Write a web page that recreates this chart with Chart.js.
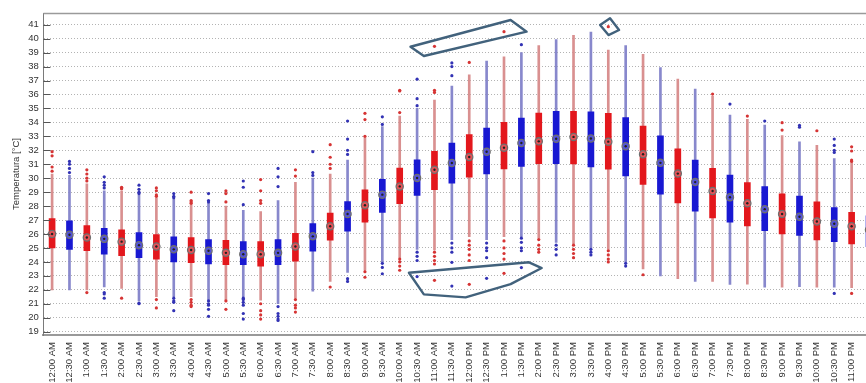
<!DOCTYPE html>
<html>
<head>
<meta charset="utf-8">
<style>
  html, body { margin: 0; padding: 0; background: #fff; overflow: hidden; }
  #wrap { width: 866px; height: 383px; overflow: hidden; position: relative; }
  #wrap canvas { position: absolute; left: 0; top: 0; }
</style>
<script src="https://cdn.jsdelivr.net/npm/chart.js@4.4.1/dist/chart.umd.min.js"></script>
</head>
<body>
<div id="wrap"><canvas id="temps" width="883" height="383"></canvas></div>
<script>
// Half-hourly indoor temperature distribution (box plots), values in °C
const timeLabels = [
  '12:00 AM','12:30 AM','1:00 AM','1:30 AM','2:00 AM','2:30 AM','3:00 AM','3:30 AM',
  '4:00 AM','4:30 AM','5:00 AM','5:30 AM','6:00 AM','6:30 AM','7:00 AM','7:30 AM',
  '8:00 AM','8:30 AM','9:00 AM','9:30 AM','10:00 AM','10:30 AM','11:00 AM','11:30 AM',
  '12:00 PM','12:30 PM','1:00 PM','1:30 PM','2:00 PM','2:30 PM','3:00 PM','3:30 PM',
  '4:00 PM','4:30 PM','5:00 PM','5:30 PM','6:00 PM','6:30 PM','7:00 PM','7:30 PM',
  '8:00 PM','8:30 PM','9:00 PM','9:30 PM','10:00 PM','10:30 PM','11:00 PM','11:30 PM'
];

const whiskerLow = [
  22.0, 22.0, 22.0, 22.2, 22.1, 21.2, 21.5, 21.5, 21.5, 21.3, 21.25, 21.45,
  21.25, 21.0, 21.4, 21.9, 22.6, 23.25, 23.45, 24.0, 24.3, 24.9, 24.85, 25.6,
  25.8, 25.6, 25.8, 25.8, 25.7, 25.4, 25.3, 25.0, 24.9, 24.0, 23.5, 23.0,
  22.8, 22.6, 22.6, 22.38, 22.4, 22.18, 22.18, 22.22, 22.18, 22.18, 22.15, 22.0
];
const quartile1 = [
  25.0, 24.9, 24.8, 24.55, 24.45, 24.3, 24.2, 24.0, 23.95, 23.85, 23.8, 23.8,
  23.7, 23.8, 24.05, 24.76, 25.55, 26.2, 26.85, 27.55, 28.18, 28.77, 29.17, 29.65,
  30.08, 30.3, 30.66, 30.85, 31.04, 31.04, 31.02, 30.81, 30.65, 30.16, 29.55, 28.85,
  28.23, 27.63, 27.16, 26.84, 26.57, 26.24, 26.0, 25.89, 25.57, 25.45, 25.28, 25.1
];
const medians = [
  26.0, 25.95, 25.75, 25.65, 25.45, 25.2, 25.1, 24.9, 24.85, 24.8, 24.65, 24.55,
  24.55, 24.65, 25.1, 25.83, 26.55, 27.43, 28.06, 28.82, 29.41, 30.01, 30.61, 31.09,
  31.52, 31.9, 32.19, 32.52, 32.64, 32.83, 32.96, 32.84, 32.62, 32.29, 31.72, 31.1,
  30.33, 29.72, 29.08, 28.63, 28.2, 27.78, 27.43, 27.24, 26.9, 26.73, 26.55, 26.3
];
const quartile3 = [
  27.1, 26.95, 26.6, 26.4, 26.3, 26.1, 25.95, 25.8, 25.75, 25.6, 25.55, 25.45,
  25.45, 25.6, 26.05, 26.74, 27.5, 28.33, 29.17, 29.92, 30.72, 31.32, 31.92, 32.52,
  33.12, 33.6, 34.0, 34.31, 34.67, 34.79, 34.8, 34.76, 34.64, 34.34, 33.73, 33.03,
  32.1, 31.3, 30.7, 30.23, 29.68, 29.39, 28.87, 28.72, 28.3, 27.9, 27.56, 27.3
];
const whiskerHigh = [
  30.3, 30.2, 29.6, 29.1, 29.1, 28.8, 28.6, 28.5, 28.1, 28.2, 28.0, 27.7,
  27.6, 28.4, 29.7, 30.0, 30.3, 31.3, 32.9, 33.7, 34.45, 35.0, 35.6, 36.6,
  37.4, 38.4, 38.7, 39.0, 39.5, 39.93, 40.24, 40.48, 39.18, 39.5, 38.88, 37.93,
  37.1, 36.38, 35.86, 34.53, 34.22, 33.8, 33.05, 32.6, 32.35, 31.4, 31.1, 31.0
];
const outliers = [
  [31.9, 31.6, 30.8, 30.5],
  [31.2, 31.0, 30.7, 30.4],
  [30.6, 30.3, 30.0, 29.8, 21.8],
  [30.1, 29.7, 29.5, 29.3, 21.8, 21.7, 21.4],
  [29.35, 29.3, 29.25, 21.4],
  [29.5, 29.2, 29.0, 28.9, 21.05, 21.0],
  [29.3, 29.1, 28.8, 28.7, 21.3, 20.7],
  [28.9, 28.7, 28.6, 21.4, 21.2, 21.1, 20.5],
  [29.0, 28.4, 28.3, 28.2, 21.3, 21.1, 20.9, 20.8],
  [28.9, 28.4, 28.3, 21.2, 21.0, 20.9, 20.6, 20.1],
  [29.1, 28.9, 28.3, 21.2, 20.6],
  [29.8, 29.35, 28.1, 21.4, 21.3, 21.1, 20.9, 20.3, 19.9],
  [29.9, 29.1, 28.4, 28.2, 21.0, 20.5, 20.2, 19.9],
  [30.7, 30.1, 29.4, 20.8, 20.3, 20.1, 19.9, 19.8],
  [30.6, 30.15, 21.3, 20.9, 20.7, 20.4],
  [31.9, 30.4, 30.2],
  [32.4, 31.5, 31.0, 30.7, 22.2],
  [34.1, 32.8, 32.0, 31.7, 22.8, 22.6],
  [34.65, 34.2, 33.0, 23.3, 22.9],
  [34.4, 33.85, 23.9, 23.6, 23.15],
  [36.3, 36.25, 34.7, 24.2, 24.0, 23.7, 23.4],
  [37.1, 35.7, 35.2, 24.7, 24.4, 24.1, 22.95],
  [39.45, 36.3, 36.15, 24.7, 24.4, 24.1, 23.85, 22.68],
  [38.26, 38.0, 37.35, 25.35, 25.0, 24.7, 23.97, 22.27],
  [38.3, 25.5, 25.2, 24.9, 24.5, 24.1, 22.39],
  [25.35, 25.0, 24.8, 24.3, 22.82],
  [40.5, 25.5, 25.0, 24.6, 24.2, 23.18],
  [39.57, 25.7, 25.4, 25.0, 24.8, 23.59],
  [25.6, 25.2, 24.9, 24.7],
  [25.2, 24.9, 24.5],
  [25.2, 24.9, 24.6, 24.3],
  [24.9, 24.7, 24.5],
  [40.86, 24.8, 24.5, 24.2, 24.0],
  [23.9, 23.7],
  [23.08],
  [],
  [],
  [],
  [36.03],
  [35.31],
  [34.45],
  [34.1],
  [33.98, 33.45],
  [33.78, 33.65],
  [33.4],
  [32.8, 32.35, 32.0, 31.85, 21.74],
  [32.25, 31.95, 31.3, 31.2, 21.74],
  [32.0, 31.7, 31.5]
];

// Hand-drawn outlines around notable outliers, as [category index, °C] vertices
const markedHighSpread = [[20.62, 39.42], [26.38, 41.34], [27.3, 40.5], [21.39, 38.76]];
const markedLowSpread = [[20.53, 23.22], [27.44, 23.97], [28.17, 23.56], [26.38, 22.41], [23.79, 21.46], [21.39, 21.67]];
const markedPeak = [[31.53, 40.98], [32.1, 41.46], [32.62, 40.62], [32.01, 40.26]];

// Alternating red / blue series colours
const isRed = (i) => i % 2 === 0;
const boxColors = timeLabels.map((_, i) => isRed(i) ? '#e3171c' : '#1818d2');
const whiskerColors = timeLabels.map((_, i) => isRed(i) ? '#d99090' : '#8888cc');

const outlierPoints = [];
const outlierColors = [];
outliers.forEach((vals, i) => {
  vals.forEach((v) => {
    outlierPoints.push({ x: timeLabels[i], y: v });
    outlierColors.push(isRed(i) ? '#d63434' : '#3232b4');
  });
});

const FONT = "'Liberation Sans', Arial, sans-serif";
Chart.defaults.font.family = FONT;

const framePlugin = {
  id: 'frame',
  afterDatasetsDraw(chart) {
    const { ctx, scales: { x, y } } = chart;
    ctx.save();
    ctx.strokeStyle = '#42627c';
    ctx.lineWidth = 2.4;
    ctx.lineJoin = 'round';
    [markedHighSpread, markedLowSpread, markedPeak].forEach((poly) => {
      ctx.beginPath();
      poly.forEach(([cx, cy], k) => {
        const px = x.getPixelForValue(cx);
        const py = y.getPixelForValue(cy);
        if (k === 0) ctx.moveTo(px, py); else ctx.lineTo(px, py);
      });
      ctx.closePath();
      ctx.stroke();
    });
    ctx.restore();
  },
  afterDraw(chart) {
    const { ctx, chartArea: a, scales: { y } } = chart;
    ctx.save();
    // top frame line
    ctx.strokeStyle = '#9a9a9a';
    ctx.lineWidth = 1.5;
    ctx.beginPath();
    ctx.moveTo(a.left, a.top + 0.5);
    ctx.lineTo(a.right, a.top + 0.5);
    ctx.stroke();
    // inward tick marks on the value axis
    ctx.strokeStyle = '#555';
    ctx.lineWidth = 1;
    y.ticks.forEach((t) => {
      const py = Math.round(y.getPixelForValue(t.value)) + 0.5;
      ctx.beginPath();
      ctx.moveTo(a.left, py);
      ctx.lineTo(a.left + 7, py);
      ctx.stroke();
    });
    ctx.restore();
  }
};

new Chart(document.getElementById('temps'), {
  type: 'bar',
  data: {
    labels: timeLabels,
    datasets: [
      {
        label: 'Range',
        data: timeLabels.map((_, i) => [whiskerLow[i], whiskerHigh[i]]),
        backgroundColor: whiskerColors,
        borderWidth: 0,
        barThickness: 2,
        grouped: false,
        order: 5
      },
      {
        label: 'Interquartile',
        data: timeLabels.map((_, i) => [quartile1[i], quartile3[i]]),
        backgroundColor: boxColors,
        borderWidth: 0,
        barThickness: 6,
        grouped: false,
        order: 4
      },
      {
        type: 'line',
        label: 'Outliers',
        data: outlierPoints,
        showLine: false,
        pointRadius: 1.6,
        pointBorderWidth: 0,
        pointBackgroundColor: outlierColors,
        order: 3
      },
      {
        type: 'line',
        label: 'Median',
        data: medians,
        showLine: false,
        pointRadius: 3.6,
        pointBorderWidth: 1.3,
        pointBorderColor: '#6e6e6e',
        pointBackgroundColor: 'rgba(255,255,255,0.25)',
        order: 2
      },
      {
        type: 'line',
        label: 'Median centre',
        data: medians,
        showLine: false,
        pointRadius: 1.2,
        pointBorderWidth: 0,
        pointBackgroundColor: '#222',
        order: 1
      }
    ]
  },
  options: {
    responsive: false,
    animation: false,
    devicePixelRatio: 1,
    layout: { padding: { top: 13, left: 0, right: 0, bottom: 0 } },
    plugins: { legend: { display: false }, tooltip: { enabled: false } },
    scales: {
      x: {
        type: 'category',
        offset: true,
        grid: { display: false, drawTicks: false },
        border: { display: true, color: '#9a9a9a', width: 2 },
        ticks: {
          autoSkip: false, maxRotation: 90, minRotation: 90, padding: 7,
          color: '#333', font: { size: 9.5 }
        },
        afterFit(s) { s.height = 48; s.paddingLeft = 0; s.paddingRight = 0; }
      },
      y: {
        min: 18.76,
        max: 41.84,
        grid: { color: '#b3b3b3', lineWidth: 1, drawTicks: false },
        border: { display: true, color: '#7a7a7a', width: 1, dash: [1, 2] },
        ticks: {
          stepSize: 1, includeBounds: false, autoSkip: false, padding: 4.5,
          color: '#333', font: { size: 9.5 }
        },
        title: {
          display: true, text: 'Temperatura [°C]', color: '#333',
          font: { size: 9.5 }, padding: { top: 11, bottom: 0 }
        },
        afterFit(s) { s.width = 43.4; }
      }
    }
  },
  plugins: [framePlugin]
});
</script>
</body>
</html>
